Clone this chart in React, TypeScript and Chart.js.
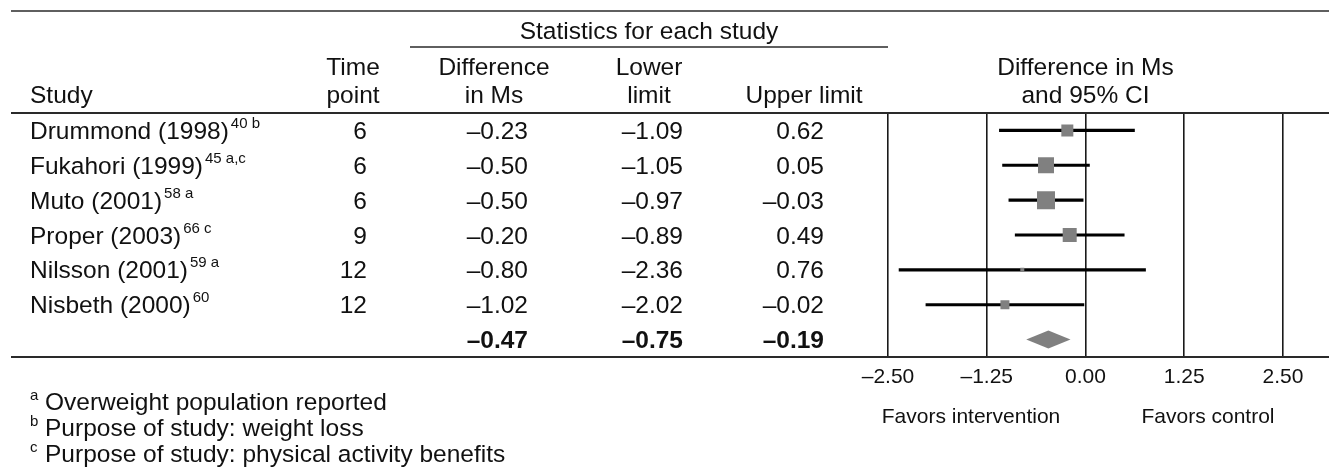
import React, { useEffect, useRef } from 'react';
import { Chart, registerables } from 'chart.js';

Chart.register(...registerables);

// ---------- data ----------
const studies = ['Drummond (1998)', 'Fukahori (1999)', 'Muto (2001)', 'Proper (2003)', 'Nilsson (2001)', 'Nisbeth (2000)'];
const studyRefs = ['40 b', '45 a,c', '58 a', '66 c', '59 a', '60'];
const timePoints = [6, 6, 6, 9, 12, 12];
const differences = [-0.23, -0.5, -0.5, -0.2, -0.8, -1.02];
const lowerLimits = [-1.09, -1.05, -0.97, -0.89, -2.36, -2.02];
const upperLimits = [0.62, 0.05, -0.03, 0.49, 0.76, -0.02];
const studyWeights = [12, 16, 18, 14, 4, 9]; // relative weight, shown as square side
const summaryValues = [-0.47, -0.75, -0.19]; // difference, lower, upper
const xTicks = [-2.5, -1.25, 0, 1.25, 2.5];
const footnoteMarks = ['a', 'b', 'c'];
const footnoteTexts = ['Overweight population reported', 'Purpose of study: weight loss', 'Purpose of study: physical activity benefits'];

const rowLabels = [...studies, 'Overall'];

const FONT = '"Liberation Sans", Arial, Helvetica, sans-serif';
const TEXT = '#111';
const LINE = '#2a2a2a';
const FS = 24.5;

const fmt = (v: number) => (v < 0 ? '\u2013' : '') + Math.abs(v).toFixed(2);

const tablePlugin = {
  id: 'forestTable',
  afterDatasetsDraw(chart: any) {
    const { ctx } = chart;
    const xs = chart.scales.x;
    const ys = chart.scales.y;
    // summary diamond
    const yc = ys.getPixelForValue(studies.length);
    const xl = xs.getPixelForValue(summaryValues[1]);
    const xr = xs.getPixelForValue(summaryValues[2]);
    const xm = xs.getPixelForValue(summaryValues[0]);
    ctx.save();
    ctx.fillStyle = '#808080';
    ctx.beginPath();
    ctx.moveTo(xl, yc);
    ctx.lineTo(xm, yc - 9);
    ctx.lineTo(xr, yc);
    ctx.lineTo(xm, yc + 9);
    ctx.closePath();
    ctx.fill();
    ctx.restore();
  },
  afterDraw(chart: any) {
    const { ctx } = chart;
    const ys = chart.scales.y;
    const xs = chart.scales.x;
    const W = chart.width;
    ctx.save();
    // horizontal rules
    ctx.strokeStyle = LINE;
    const hline = (y: number, x1: number, x2: number, lw: number) => {
      ctx.lineWidth = lw;
      ctx.beginPath();
      ctx.moveTo(x1, y);
      ctx.lineTo(x2, y);
      ctx.stroke();
    };
    hline(11, 11, W, 1.5);
    hline(47, 410, 888, 1.5);
    hline(113, 11, W, 2);
    hline(357, 11, W, 2);

    const text = (s: string, x: number, y: number, align: CanvasTextAlign, size: number, bold = false) => {
      ctx.font = `${bold ? 'bold ' : ''}${size}px ${FONT}`;
      ctx.textAlign = align;
      ctx.textBaseline = 'alphabetic';
      ctx.fillStyle = TEXT;
      ctx.fillText(s, x, y);
    };

    // headers
    text('Statistics for each study', 649, 39, 'center', FS);
    text('Study', 30, 103, 'left', FS);
    text('Time', 353, 75, 'center', FS);
    text('point', 353, 103, 'center', FS);
    text('Difference', 494, 75, 'center', FS);
    text('in Ms', 494, 103, 'center', FS);
    text('Lower', 649, 75, 'center', FS);
    text('limit', 649, 103, 'center', FS);
    text('Upper limit', 804, 103, 'center', FS);
    const x0 = xs.getPixelForValue(0);
    text('Difference in Ms', x0, 75, 'center', FS);
    text('and 95% CI', x0, 103, 'center', FS);

    // rows
    studies.forEach((name, i) => {
      const b = ys.getPixelForValue(i) + 8.5;
      text(name, 30, b, 'left', FS);
      ctx.font = `${FS}px ${FONT}`;
      const w = ctx.measureText(name).width;
      text(studyRefs[i], 30 + w + 2, b - 11, 'left', 15);
      text(String(timePoints[i]), 367, b, 'right', FS);
      text(fmt(differences[i]), 528, b, 'right', FS);
      text(fmt(lowerLimits[i]), 683, b, 'right', FS);
      text(fmt(upperLimits[i]), 824, b, 'right', FS);
    });
    const sb = ys.getPixelForValue(studies.length) + 8.5;
    text(fmt(summaryValues[0]), 528, sb, 'right', FS, true);
    text(fmt(summaryValues[1]), 683, sb, 'right', FS, true);
    text(fmt(summaryValues[2]), 824, sb, 'right', FS, true);

    // axis captions
    text('Favors intervention', 971, 423, 'center', 21);
    text('Favors control', 1208, 423, 'center', 21);

    // footnotes
    footnoteTexts.forEach((t, i) => {
      const b = 410 + i * 26;
      text(footnoteMarks[i], 30, b - 10, 'left', 15);
      text(t, 45, b, 'left', FS);
    });
    ctx.restore();
  },
};

export default function App() {
  const ref = useRef<HTMLCanvasElement | null>(null);
  useEffect(() => {
    document.body.style.margin = '0';
    const canvas = ref.current;
    if (!canvas) return;
    const chart = new Chart(canvas, {
      type: 'bar',
      data: {
        labels: rowLabels,
        datasets: [
          {
            type: 'scatter',
            data: studies.map((s, i) => ({ x: differences[i], y: s })),
            pointStyle: 'rect',
            pointRadius: studyWeights.map((w) => w / Math.SQRT2),
            backgroundColor: '#808080',
            borderWidth: 0,
            xAxisID: 'x',
            yAxisID: 'y',
            order: 0,
          } as any,
          {
            type: 'bar',
            indexAxis: 'y',
            data: [...studies.map((_, i) => [lowerLimits[i], upperLimits[i]]), null],
            backgroundColor: '#000',
            borderWidth: 0,
            barThickness: 2.5,
            xAxisID: 'x',
            yAxisID: 'y',
            order: 1,
          } as any,
        ],
      },
      options: {
        responsive: false,
        animation: false,
        events: [],
        devicePixelRatio: 1,
        layout: { padding: { left: 888, right: 46, top: 113, bottom: 74 } },
        plugins: { legend: { display: false }, tooltip: { enabled: false }, title: { display: false } },
        scales: {
          x: {
            type: 'linear',
            min: -2.5,
            max: 2.5,
            offset: false,
            afterBuildTicks: (s: any) => {
              s.ticks = xTicks.map((v) => ({ value: v }));
            },
            afterFit: (s: any) => {
              s.height = 40;
            },
            grid: { color: '#1a1a1a', lineWidth: 1.6, drawTicks: false, offset: false },
            border: { display: false },
            ticks: {
              padding: 8,
              color: TEXT,
              font: { family: FONT, size: 21 },
              callback: (v: any) => fmt(Number(v)),
              maxRotation: 0,
              autoSkip: false,
            },
          },
          y: {
            type: 'category',
            labels: rowLabels,
            offset: true,
            display: false,
            grid: { display: false },
          },
        },
      } as any,
      plugins: [tablePlugin],
    });
    return () => chart.destroy();
  }, []);
  return <canvas ref={ref} width={1329} height={471} style={{ display: 'block' }} />;
}
